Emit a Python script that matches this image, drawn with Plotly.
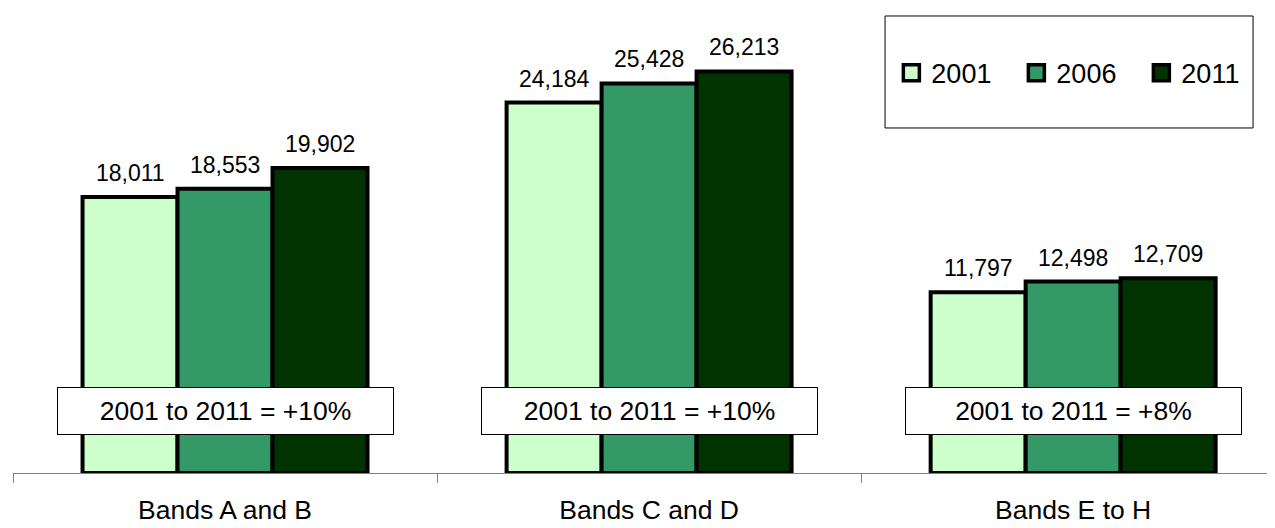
import plotly.graph_objects as go

categories = ["Bands A and B", "Bands C and D", "Bands E to H"]
years = ["2001", "2006", "2011"]
values_2001 = [18011, 24184, 11797]
values_2006 = [18553, 25428, 12498]
values_2011 = [19902, 26213, 12709]
change_labels = ["2001 to 2011 = +10%", "2001 to 2011 = +10%", "2001 to 2011 = +8%"]
colors = ["#CCFFCC", "#339966", "#003300"]

FONT = "Liberation Sans, Arial, sans-serif"
series = [values_2001, values_2006, values_2011]
BARGAP = 0.328
bar_w = (1 - BARGAP) / len(series)

fig = go.Figure()
for j, (name, vals, col) in enumerate(zip(years, series, colors)):
    fig.add_trace(go.Bar(
        x=categories, y=vals, name=name,
        marker=dict(color=col, line=dict(color="black", width=4)),
        showlegend=False,
    ))
    # legend proxy
    fig.add_trace(go.Scatter(
        x=[None], y=[None], mode="markers", name=name,
        marker=dict(symbol="square", size=19, color=col, line=dict(color="black", width=3.5)),
        showlegend=True,
    ))
    for ci, v in enumerate(vals):
        fig.add_annotation(
            x=ci + (j - (len(series) - 1) / 2) * bar_w, y=v, xref="x", yref="y",
            text=f"{v:,}", showarrow=False, yanchor="middle", yshift=24,
            font=dict(family=FONT, size=23, color="black"),
        )

for cat, lab in zip(categories, change_labels):
    fig.add_annotation(
        x=cat, y=0.1333, xref="x", yref="paper", text=lab, showarrow=False,
        xanchor="center", yanchor="middle",
        font=dict(family=FONT, size=26.5, color="black"),
        bgcolor="white", bordercolor="black", borderwidth=1,
        width=333, height=44, borderpad=1,
    )

fig.add_shape(type="rect", xref="paper", yref="paper",
              x0=0.691, x1=0.9826, y0=0.742, y1=0.9828,
              line=dict(color="black", width=1), fillcolor="white", layer="below")

fig.update_layout(
    width=1267, height=520,
    margin=dict(l=5, r=0, t=0, b=55, autoexpand=False),
    paper_bgcolor="white", plot_bgcolor="white",
    barmode="group", bargap=BARGAP, bargroupgap=0,
    font=dict(family=FONT, color="black"),
    legend=dict(orientation="h", x=0.696, y=0.860, xanchor="left", yanchor="middle",
                font=dict(family=FONT, size=27, color="black"),
                entrywidth=80, entrywidthmode="pixels",
                bgcolor="rgba(0,0,0,0)", itemclick=False),
    xaxis=dict(range=[-0.5, 2.476], showline=True, linecolor="#808080", linewidth=1,
               ticks="outside", tickson="boundaries", ticklen=9, tickcolor="#808080",
               ticklabelstandoff=13, automargin=False,
               tickfont=dict(family=FONT, size=26.5, color="black"), showgrid=False),
    yaxis=dict(range=[0, 30352], visible=False, showgrid=False, automargin=False),
)

fig.write_html("out.html")
